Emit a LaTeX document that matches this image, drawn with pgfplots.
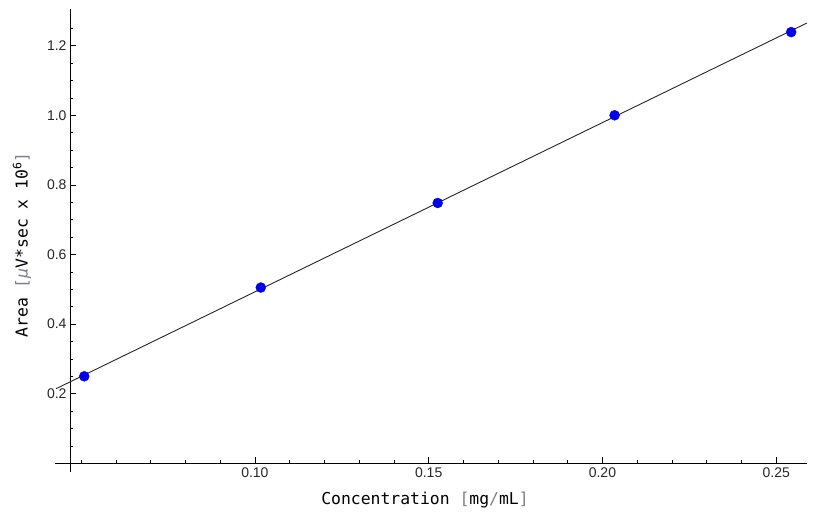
\documentclass[border=0pt]{standalone}
\usepackage{pgfplots}
\pgfplotsset{compat=1.18}
\usepackage{fontspec}
\setmainfont{Liberation Sans}
\newfontfamily\monofont{DejaVu Sans Mono}
\definecolor{brk}{RGB}{125,125,145}
\definecolor{ptblue}{RGB}{0,0,235}
\begin{document}
\begin{tikzpicture}
\useasboundingbox (-70bp,-44bp) rectangle (758bp,472bp);
\begin{axis}[
  scale only axis, width=736.8bp, height=463.2bp,
  xmin=0.0468, xmax=0.2588, ymin=-0.025, ymax=1.306,
  axis x line=middle, axis y line=left,
  axis line style={-, line width=0.9bp, black},
  xtick={0.10,0.15,0.20,0.25},
  xticklabels={0.10,0.15,0.20,0.25},
  minor xtick={0.05,0.06,0.07,0.08,0.09,0.11,0.12,0.13,0.14,0.16,0.17,0.18,0.19,0.21,0.22,0.23,0.24},
  ytick={0.2,0.4,0.6,0.8,1.0,1.2},
  yticklabels={0.2,0.4,0.6,0.8,1.0,1.2},
  minor ytick={0.05,0.1,0.15,0.25,0.3,0.35,0.45,0.5,0.55,0.65,0.7,0.75,0.85,0.9,0.95,1.05,1.1,1.15,1.25},
  tick align=inside,
  major tick length=6bp, minor tick length=3.5bp,
  tick style={black, line width=0.7bp},
  ticklabel style={font=\fontsize{14bp}{16bp}\selectfont, text=black!85},
  xticklabel style={yshift=-1bp},
  xlabel={\monofont\fontsize{16.4bp}{18bp}\selectfont Concentration {\color{brk}[}mg{\color{brk}/}mL{\color{brk}]}},
  ylabel={\monofont\fontsize{16.4bp}{18bp}\selectfont Area {\color{brk}[\textit{μ}}V*sec x 10\textsuperscript{6}{\color{brk}]}},
  xlabel style={at={(axis description cs:0.4818,-0.060)}, anchor=center},
  ylabel style={at={(axis description cs:-0.0651,0.490)}, anchor=center},
  clip=false,
]
\addplot[black!85, line width=0.9bp] coordinates {(0.0428,0.2144) (0.2588,1.265)};
\addplot[only marks, mark=*, mark size=5bp, ptblue, mark options={draw=ptblue, fill=ptblue}] coordinates {
(0.0509,0.250) (0.1017,0.505) (0.1526,0.748) (0.2035,1.000) (0.2543,1.239)};
\draw[line width=0.9bp] (axis cs:0.0425,0) -- (axis cs:0.0468,0);
\end{axis}
\end{tikzpicture}
\end{document}
